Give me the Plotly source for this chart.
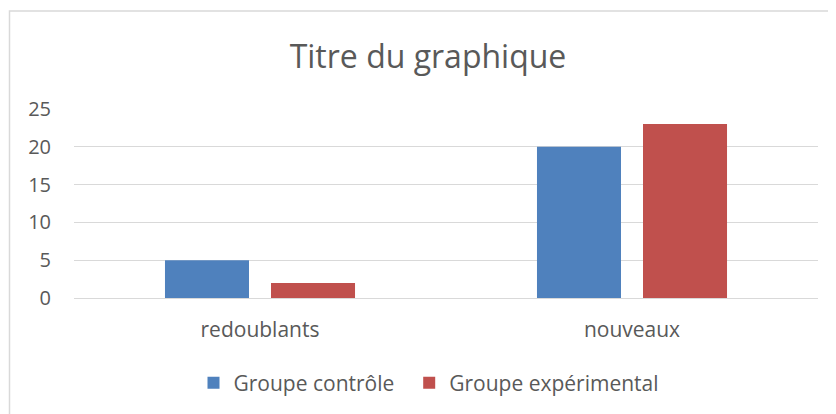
import plotly.graph_objects as go

categories = ["redoublants", "nouveaux"]
controle = [5, 20]
experimental = [2, 23]
series_names = ["Groupe contrôle", "Groupe expérimental"]
title_text = "Titre du graphique"
y_ticks = [0, 5, 10, 15, 20, 25]

FONT = "Open Sans"
TXT = "#595959"
GRID = "#D9D9D9"

# page body has an 8px margin: figure is sized to fill the rest of the window
W, H = 828, 406
L, R, T, B = 66, 18, 101, 115
PW = W - L - R
PH = H - T - B

fig = go.Figure()
fig.add_trace(go.Bar(x=categories, y=controle, name=series_names[0], legend="legend",
                     marker=dict(color="#4F81BD", line=dict(width=0))))
fig.add_trace(go.Bar(x=categories, y=experimental, name=series_names[1], legend="legend2",
                     marker=dict(color="#C0504D", line=dict(width=0))))

leg_common = dict(orientation="h", yanchor="middle", y=-0.442, xanchor="left",
                  font=dict(family=FONT, size=21, color=TXT),
                  bgcolor="rgba(0,0,0,0)", itemclick=False, itemdoubleclick=False)

fig.update_layout(
    width=W, height=H,
    margin=dict(l=L, r=R, t=T, b=B),
    paper_bgcolor="white", plot_bgcolor="white",
    barmode="group", bargap=0.43, bargroupgap=0.2075,
    font=dict(family=FONT, size=20, color=TXT),
    title=dict(text=title_text, x=420 / W, xanchor="center", xref="container",
               y=1 - 49 / H, yanchor="middle", yref="container",
               font=dict(family=FONT, size=32, color=TXT)),
    showlegend=True,
    legend=dict(leg_common, x=(185.5 - L) / PW),
    legend2=dict(leg_common, x=(401.2 - L) / PW),
    xaxis=dict(showgrid=False, showline=False, ticks="", zeroline=False,
               ticklabelstandoff=17, tickfont=dict(size=21, color=TXT)),
    yaxis=dict(range=[0, 25], tickvals=y_ticks, showgrid=True, gridcolor=GRID, gridwidth=1.4,
               zeroline=True, zerolinecolor=GRID, zerolinewidth=1.4, showline=False,
               ticks="", ticklabelstandoff=22, tickfont=dict(size=20, color=TXT)),
    shapes=[dict(type="rect", xref="paper", yref="paper",
                 x0=(1.5 - L) / PW, x1=1.2, y0=-0.8, y1=(T + PH - 2.5) / PH,
                 line=dict(color=GRID, width=1.5), fillcolor="rgba(0,0,0,0)", layer="below")],
)

fig.write_html("out.html")
